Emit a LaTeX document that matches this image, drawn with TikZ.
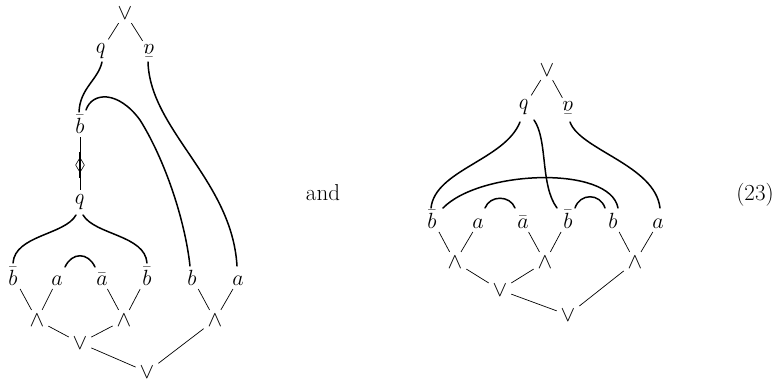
\RequirePackage{fix-cm}
\documentclass[tikz,border=0pt]{standalone}
\usepackage{graphicx}
\usetikzlibrary{shapes.geometric}
\newcommand{\rotb}{\rotatebox[origin=c]{180}{$b$}}
\newcommand{\rotabar}{\rotatebox[origin=c]{180}{$\bar a$}}
\begin{document}
\begin{tikzpicture}[x=1pt,y=-1pt,
  lab/.style={font=\fontsize{22}{26}\selectfont, inner sep=0pt, outer sep=4pt},
  op/.style={font=\fontsize{22}{26}\selectfont, inner sep=0pt, outer sep=4pt},
  txt/.style={font=\fontsize{23}{27}\selectfont, inner sep=0pt, anchor=base},
  con/.style={line width=0.7pt},
  wire/.style={line width=1.5pt, line cap=round},
  dia/.style={draw, diamond, line width=0.6pt, minimum width=12pt, minimum height=18pt, inner sep=0pt, outer sep=4pt}]
\useasboundingbox (0,0) rectangle (783,388);
% ---------- left diagram ----------
\node[op] (lv) at (125,13) {$\vee$};
\node[lab] (lq) at (101,51) {\rotb};
\node[lab] (lp) at (149,51) {\rotabar};
\node[lab,anchor=base] (lb) at (80,133) {$\bar b$};
\node[dia] (ld) at (80,165) {};
\node[lab] (lq2) at (80,202) {\rotb};
\node[lab,anchor=base] (l1) at (13,285) {$\bar b$};
\node[lab,anchor=base] (l2) at (57,285) {$a$};
\node[lab,anchor=base] (l3) at (102,285) {$\bar a$};
\node[lab,anchor=base] (l4) at (147,285) {$\bar b$};
\node[lab,anchor=base] (l5) at (192,285) {$b$};
\node[lab,anchor=base] (l6) at (238,285) {$a$};
\node[op] (la1) at (37,320) {$\wedge$};
\node[op] (la2) at (124,320) {$\wedge$};
\node[op] (la3) at (215,320) {$\wedge$};
\node[op] (lo1) at (80,343) {$\vee$};
\node[op] (lo2) at (147,372) {$\vee$};
\draw[con] (lv) -- (lq);
\draw[con] (lv) -- (lp);
\draw[con] (lb) -- (ld);
\draw[con] (ld) -- (lq2);
\draw[line width=1.5pt] (ld.north) -- (ld.south);
\draw[con] (l1) -- (la1);
\draw[con] (l2) -- (la1);
\draw[con] (l3) -- (la2);
\draw[con] (l4) -- (la2);
\draw[con] (l5) -- (la3);
\draw[con] (l6) -- (la3);
\draw[con] (la1) -- (lo1);
\draw[con] (la2) -- (lo1);
\draw[con] (lo1) -- (lo2);
\draw[con] (la3) -- (lo2);
% wires
\draw[wire] (102,62) .. controls (98,80) and (80,88) .. (79,112);
\draw[wire] (86,110) .. controls (92,92) and (118,90) .. (140,120) .. controls (165,160) and (185,220) .. (190,266);
\draw[wire] (148,62) .. controls (150,130) and (232,180) .. (237,266);
\draw[wire] (76,215) .. controls (65,235) and (15,235) .. (13,263);
\draw[wire] (83,215) .. controls (95,235) and (145,235) .. (147,263);
\draw[wire] (65,267) .. controls (72,252) and (88,252) .. (95,267);
% ---------- middle text ----------
\node[txt] (and) at (323,200) {and};
\node[txt] (eq) at (755,200) {(23)};
% ---------- right diagram ----------
\node[op] (rv) at (547,70) {$\vee$};
\node[lab] (rq) at (524,107) {\rotb};
\node[lab] (rp) at (568,108) {\rotabar};
\node[lab,anchor=base] (r1) at (432,228) {$\bar b$};
\node[lab,anchor=base] (r2) at (478,228) {$a$};
\node[lab,anchor=base] (r3) at (523,228) {$\bar a$};
\node[lab,anchor=base] (r4) at (568,228) {$\bar b$};
\node[lab,anchor=base] (r5) at (613,228) {$b$};
\node[lab,anchor=base] (r6) at (658,228) {$a$};
\node[op] (ra1) at (455,262) {$\wedge$};
\node[op] (ra2) at (545,262) {$\wedge$};
\node[op] (ra3) at (635,262) {$\wedge$};
\node[op] (ro1) at (500,290) {$\vee$};
\node[op] (ro2) at (568,315) {$\vee$};
\draw[con] (rv) -- (rq);
\draw[con] (rv) -- (rp);
\draw[con] (r1) -- (ra1);
\draw[con] (r2) -- (ra1);
\draw[con] (r3) -- (ra2);
\draw[con] (r4) -- (ra2);
\draw[con] (r5) -- (ra3);
\draw[con] (r6) -- (ra3);
\draw[con] (ra1) -- (ro1);
\draw[con] (ra2) -- (ro1);
\draw[con] (ro1) -- (ro2);
\draw[con] (ra3) -- (ro2);
% wires
\draw[wire] (520,122) .. controls (505,160) and (435,170) .. (431,208);
\draw[wire] (443,208) .. controls (480,170) and (610,165) .. (618,208);
\draw[wire] (534,120) .. controls (548,140) and (540,185) .. (557,208);
\draw[wire] (570,122) .. controls (580,150) and (655,165) .. (660,208);
\draw[wire] (485,208) .. controls (490,195) and (510,195) .. (515,208);
\draw[wire] (575,208) .. controls (580,193) and (600,193) .. (605,208);
\end{tikzpicture}
\end{document}
